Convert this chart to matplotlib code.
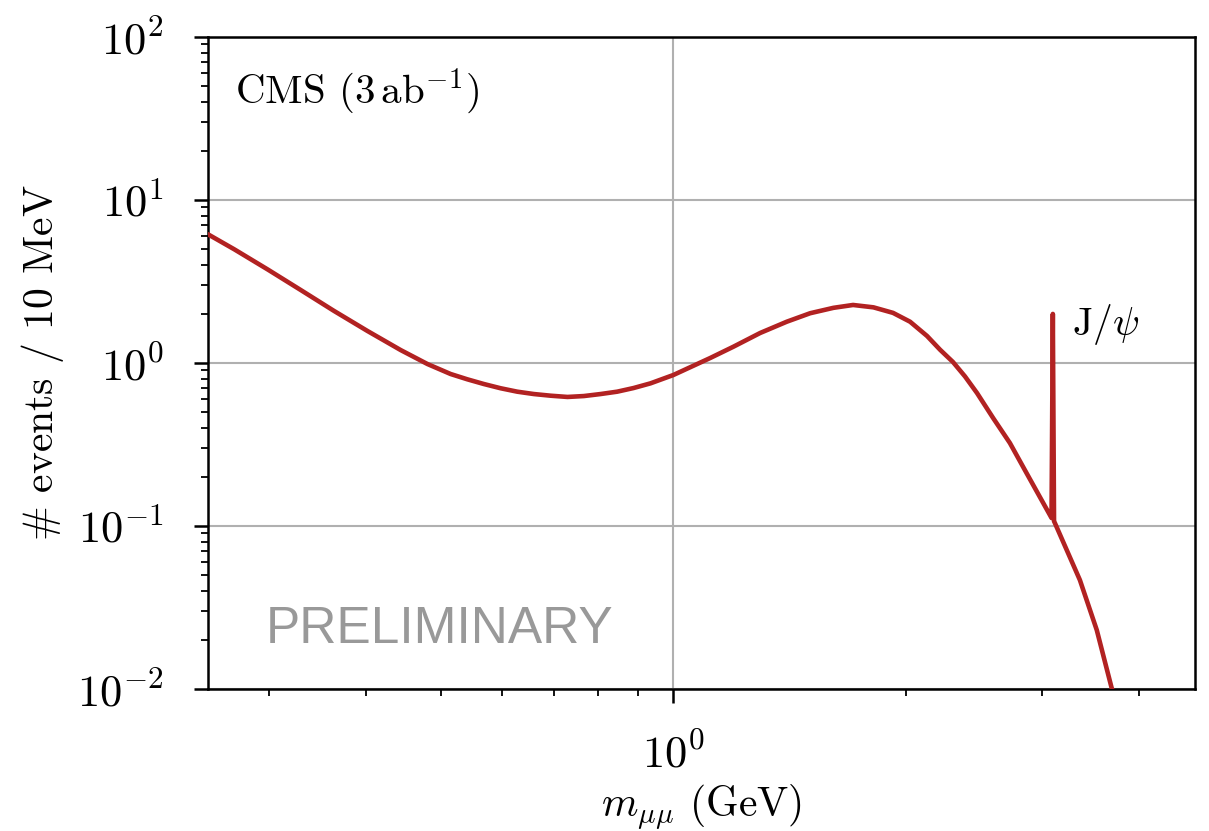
import numpy as np
import matplotlib
matplotlib.use("Agg")
import matplotlib.pyplot as plt
from matplotlib.ticker import LogLocator, NullFormatter

plt.rcParams["mathtext.fontset"] = "cm"
plt.rcParams["font.family"] = "serif"
plt.rcParams["font.serif"] = ["cmr10", "DejaVu Serif"]
plt.rcParams["axes.formatter.use_mathtext"] = True

# dimuon mass spectrum (GeV) and expected events per 10 MeV bin
mass = [0.2509, 0.2704, 0.2986, 0.3297, 0.3637, 0.4020, 0.4439, 0.4806,
        0.515, 0.5414, 0.5687, 0.5977, 0.628, 0.660, 0.694, 0.7295, 0.766,
        0.805, 0.846, 0.888, 0.934, 1.0, 1.116, 1.196, 1.295, 1.402, 1.503,
        1.611, 1.708, 1.815, 1.924, 2.024, 2.129, 2.213, 2.300, 2.384,
        2.471, 2.594, 2.725, 2.864, 3.070, 3.085, 3.097, 3.108, 3.116,
        3.357, 3.53, 3.69, 3.75]
events = [6.10, 4.98, 3.75, 2.80, 2.09, 1.572, 1.20, 0.986,
          0.856, 0.794, 0.743, 0.700, 0.667, 0.645, 0.630, 0.619, 0.627,
          0.645, 0.667, 0.702, 0.750, 0.844, 1.073, 1.259, 1.528, 1.792, 2.02,
          2.18, 2.27, 2.195, 2.03, 1.792, 1.465, 1.207, 1.014, 0.827,
          0.654, 0.4575, 0.323, 0.211, 0.1168, 0.112, 2.0, 0.107, 0.1043,
          0.0466, 0.023, 0.01015, 0.0085]

# resonance label
jpsi_label = r"$\mathrm{J}/\psi$"
jpsi_pos = (3.28, 1.72)

fig = plt.figure(figsize=(12.09, 8.31), dpi=100)
ax = fig.add_axes([208 / 1209, 142 / 831, 987 / 1209, 652 / 831])

ax.plot(mass, events, color="#b22222", lw=3.3, zorder=3,
        solid_joinstyle="round")

ax.set_xscale("log")
ax.set_yscale("log")
ax.set_xlim(0.25, 4.73)
ax.set_ylim(1e-2, 1e2)

ax.grid(True, which="major", color="#b0b0b0", lw=1.5, zorder=0)
ax.set_axisbelow(True)

ax.yaxis.set_minor_locator(LogLocator(base=10, subs=np.arange(2, 10), numticks=20))
ax.xaxis.set_minor_locator(LogLocator(base=10, subs=np.arange(2, 10), numticks=20))
ax.xaxis.set_minor_formatter(NullFormatter())
ax.yaxis.set_minor_formatter(NullFormatter())

ax.tick_params(which="major", direction="out", length=10, width=1.8,
               labelsize=32, pad=22)
ax.tick_params(which="minor", direction="out", length=5, width=1.3)
for sp in ax.spines.values():
    sp.set_linewidth(1.8)

ax.set_xlabel(r"$m_{\mu\mu}$ (GeV)", fontsize=30, labelpad=4)
ax.set_ylabel(r"$\#$ events / 10 MeV", fontsize=30, labelpad=8)

ax.text(0.027, 0.898, r"CMS $(3\,\mathrm{ab}^{-1})$", transform=ax.transAxes,
        fontsize=29.5, ha="left", va="baseline")
ax.text(jpsi_pos[0], jpsi_pos[1], jpsi_label, fontsize=28.5,
        ha="left", va="center")
ax.text(0.2345, 0.092, "PRELIMINARY", transform=ax.transAxes,
        fontsize=37, color="#999999", family="Liberation Sans",
        ha="center", va="center")

fig.savefig("out.png", dpi=100)
